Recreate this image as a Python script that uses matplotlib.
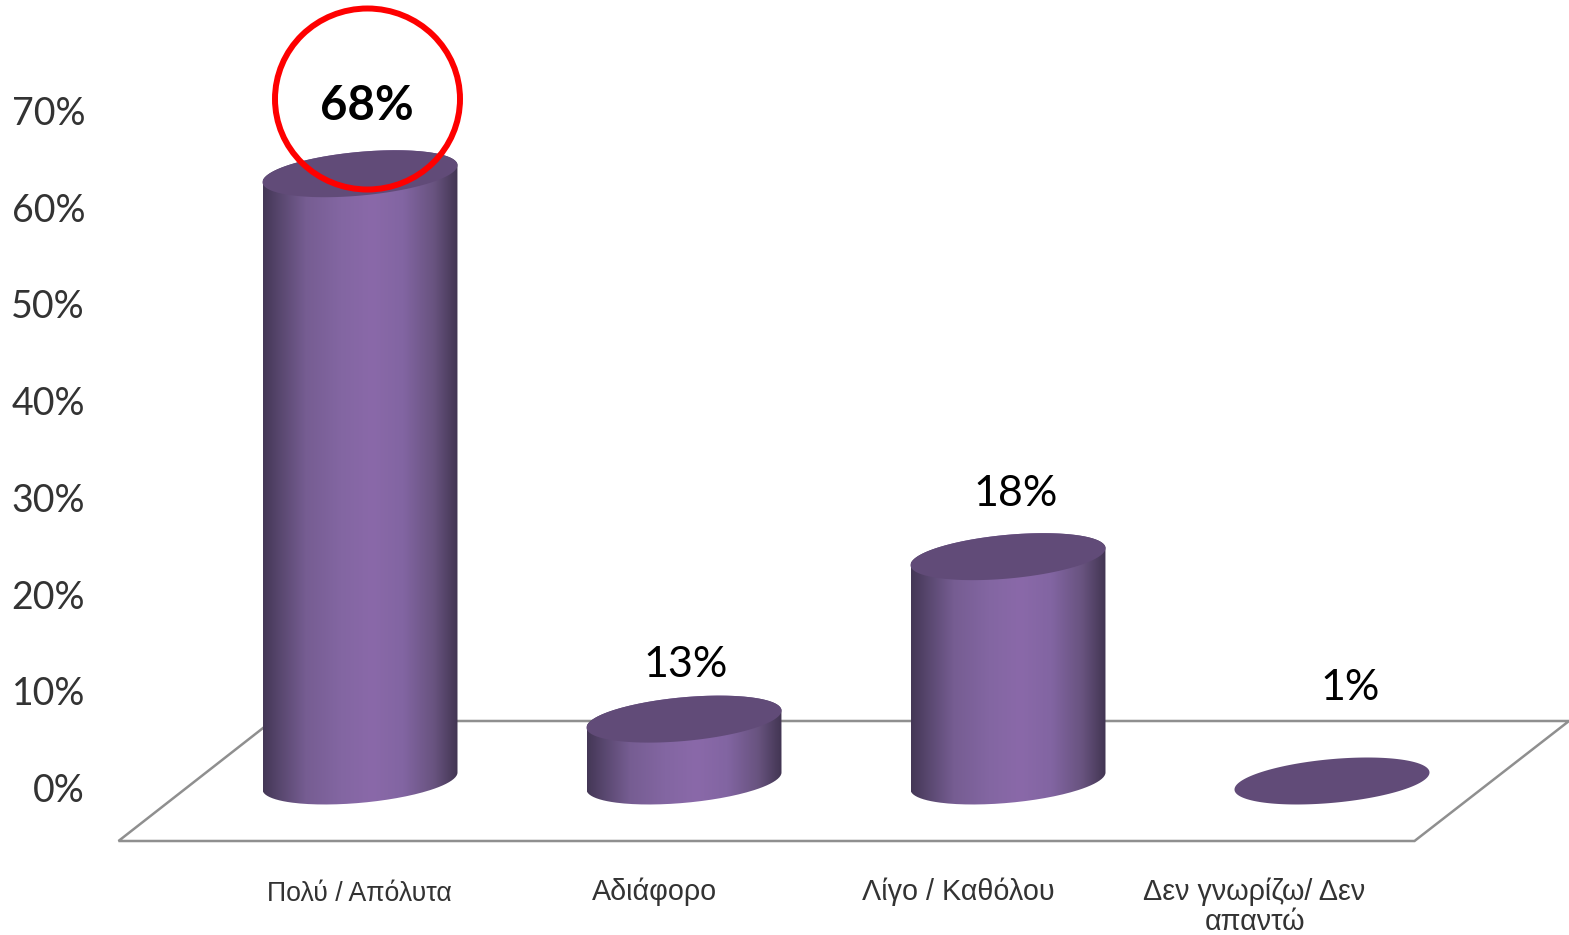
import numpy as np
import matplotlib
matplotlib.use("Agg")
import matplotlib.pyplot as plt
from matplotlib.colors import LinearSegmentedColormap
from matplotlib.patches import PathPatch, Polygon, Ellipse
from matplotlib.path import Path
from matplotlib.transforms import Affine2D

# ---- data ----
categories = ["Πολύ / Απόλυτα", "Αδιάφορο", "Λίγο / Καθόλου", "Δεν γνωρίζω/ Δεν\nαπαντώ"]
bar_heights = [62.8, 6.4, 23.2, 0.0]      # drawn height
label_texts = ["68%", "13%", "18%", "1%"]  # printed data labels
y_ticks = [0, 10, 20, 30, 40, 50, 60, 70]

# ---- layout (pixels in the 1569x935 canvas) ----
W, H = 1569, 935
X0_PX, DX_PX = 360.0, 324.0       # first bar centre and bar spacing
Y0_PX, PX_PER_UNIT = 787.5, 9.67  # 0% tick position and scale
BASE_PX = 781.0                   # centre of the base ellipses
A_PX, B_PX, S_PX = 97.5, 21.9, 8.5  # ellipse half width, half height, tilt

fig = plt.figure(figsize=(W / 100, H / 100), dpi=100, facecolor="white")
ax = fig.add_axes([0, 0, 1, 1])
ax.set_facecolor("white")
px = Affine2D().scale(1, -1).translate(0, H)   # canvas pixels, y downwards

a = A_PX / DX_PX
b = B_PX / PX_PER_UNIT
s = S_PX / PX_PER_UNIT
base = (Y0_PX - BASE_PX) / PX_PER_UNIT

cmap = LinearSegmentedColormap.from_list("cyl", [
    (0.00, "#443756"), (0.08, "#57466d"), (0.22, "#765d92"), (0.40, "#8366a2"),
    (0.56, "#8a69a9"), (0.72, "#8265a2"), (0.88, "#68537f"), (1.00, "#423552")])
grad = np.linspace(0, 1, 256).reshape(1, -1)
TOP_COLOR = "#614b78"

# floor
ax.add_patch(Polygon([(118.5, 841), (272, 721), (1569, 721), (1414.5, 841)], closed=True,
                     transform=px, facecolor="white", edgecolor="#8f8f8f", lw=1.8, zorder=1))

t = np.linspace(0, 2 * np.pi, 181)
for i, h in enumerate(bar_heights):
    ex = i + a * np.cos(t)
    ey_top = base - b * np.sin(t) + s * np.cos(t) + h
    if h > 0:
        lower = np.linspace(np.pi, 0, 91)
        low_x = i + a * np.cos(lower)
        low_y = base - b * np.sin(lower) + s * np.cos(lower)
        upper = np.linspace(0, np.pi, 91)
        up_x = i + a * np.cos(upper)
        up_y = base + h + b * np.sin(upper) + s * np.cos(upper)
        verts = np.column_stack([np.r_[low_x, up_x], np.r_[low_y, up_y]])
        clip = PathPatch(Path(np.vstack([verts, verts[0]])), transform=ax.transData,
                         facecolor="none", edgecolor="none")
        ax.add_patch(clip)
        im = ax.imshow(grad, cmap=cmap, aspect="auto", interpolation="bilinear",
                       extent=(i - a, i + a, base - b - s, base + h + b + s), zorder=2)
        im.set_clip_path(clip)
    ax.fill(ex, ey_top, color=TOP_COLOR, lw=0, zorder=3)

# data labels
label_pos = [(367, 106), (685.5, 665), (1015.5, 494), (1350.5, 688)]
for j, (txt, (lx, ly)) in enumerate(zip(label_texts, label_pos)):
    ax.text(lx, ly, txt, transform=px, ha="center", va="center", family="Lato",
            fontsize=34 if j == 0 else 31, fontweight="bold" if j == 0 else "normal",
            color="black", zorder=6)

# highlight circle
ax.add_patch(Ellipse((367.5, 99), 185, 181, transform=px, fill=False,
                     edgecolor="#fe0000", lw=4.3, zorder=5))

# axes
ax.set_xlim(-X0_PX / DX_PX, (W - X0_PX) / DX_PX)
ax.set_ylim((Y0_PX - H) / PX_PER_UNIT, Y0_PX / PX_PER_UNIT)
for sp in ax.spines.values():
    sp.set_visible(False)
ax.set_yticks(y_ticks)
ax.set_yticklabels([f"{v}%" for v in y_ticks], family="Lato", fontsize=27, color="#333333")
ax.tick_params(axis="y", length=0, pad=-85 * 0.72)
label_px = [359, 655, 958, 1254.5]
ax.set_xticks([(p - X0_PX) / DX_PX for p in label_px])
ax.set_xticklabels(categories, family="Liberation Sans", fontsize=20.7, color="#333333",
                   linespacing=1.12)
ax.tick_params(axis="x", length=0, pad=-(935 - 877) * 0.72)
first_tick = ax.xaxis.get_major_ticks()[0]
first_tick.set_pad(-(935 - 881) * 0.72)
first_tick.label1.set_fontsize(19.2)

fig.savefig("out.png", dpi=100, facecolor="white")
